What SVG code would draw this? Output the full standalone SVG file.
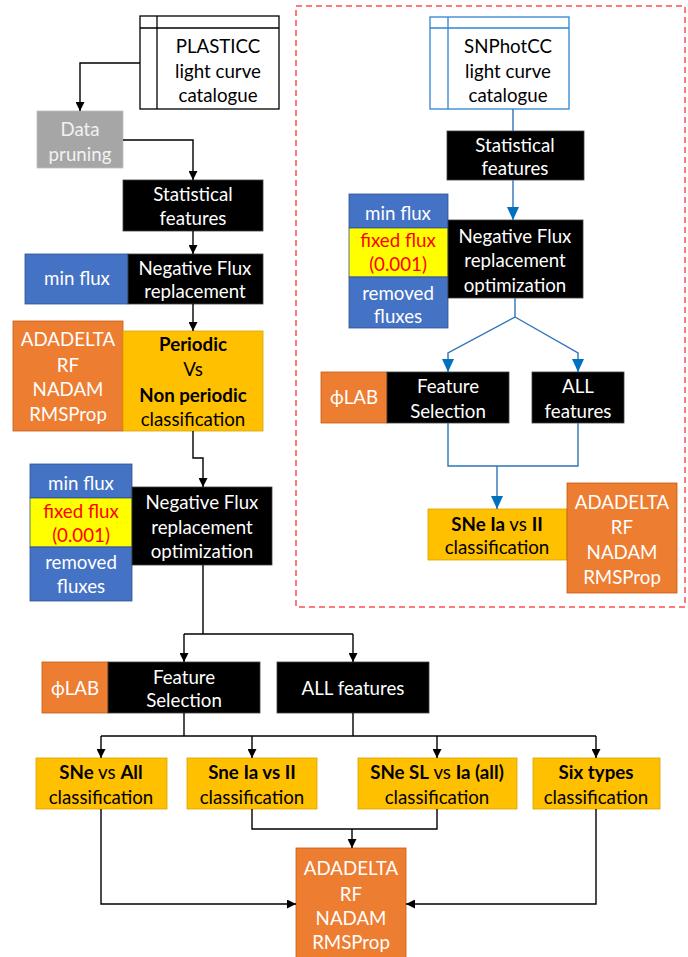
<svg xmlns="http://www.w3.org/2000/svg" width="688" height="957" viewBox="0 0 688 957">
<defs>
<marker id="ab" markerUnits="userSpaceOnUse" markerWidth="9" markerHeight="9" refX="9" refY="4.5" orient="auto"><path d="M0,0 L9,4.5 L0,9 z" fill="#000"/></marker>
<marker id="au" markerUnits="userSpaceOnUse" markerWidth="13" markerHeight="12" refX="13" refY="6" orient="auto"><path d="M0,0 L13,6 L0,12 z" fill="#0070c0"/></marker>
<style>
text{font-family:Lato,"Noto Sans","Liberation Sans",sans-serif;font-size:18.7px;text-anchor:middle;}
.w{fill:#fff}.k{fill:#000}.g{fill:#f2f2f2}.r{fill:#ff0000}.b{font-weight:bold}
.blk{fill:#000;stroke:#404040;stroke-width:0.8}
.blu{fill:#4472c4;stroke:#2f528f;stroke-width:0.8}
.yel{fill:#ffc000;stroke:#d9a300;stroke-width:0.8}
.ora{fill:#ed7d31;stroke:#c55a11;stroke-width:0.8}
.fix{fill:#ffff00;stroke:#2f528f;stroke-width:0.8}
.gry{fill:#a6a6a6;stroke:#bfbfbf;stroke-width:0.8}
.cat{fill:#fff;stroke:#000;stroke-width:1.3}
.catb{fill:#fff;stroke:#2e86d0;stroke-width:1.3}
.cn{fill:none;stroke:#000;stroke-width:1.4}
.cu{fill:none;stroke:#2e75b6;stroke-width:1.4}
</style>
</defs>
<rect id="panel" x="296" y="6" width="389" height="601" fill="none" stroke="#ff5050" stroke-width="1.5" stroke-dasharray="6,4"/>

<g id="plasticc">
<rect class="cat" x="140" y="16" width="139" height="93"/>
<line x1="140" y1="28" x2="279" y2="28" stroke="#000" stroke-width="1.3"/>
<line x1="157" y1="16" x2="157" y2="109" stroke="#000" stroke-width="1.3"/>
<text class="k" x="218" y="53">PLASTICC</text>
<text class="k" x="218" y="78">light curve</text>
<text class="k" x="218" y="102">catalogue</text>
</g>
<g id="pruning">
<rect class="gry" x="37" y="111" width="86" height="57"/>
<text class="g" x="80" y="136">Data</text>
<text class="g" x="80" y="161">pruning</text>
</g>
<g id="stat1">
<rect class="blk" x="123" y="180" width="140" height="51"/>
<text class="w" x="193" y="201">Statistical</text>
<text class="w" x="193" y="225">features</text>
</g>
<g id="nfr1">
<rect class="blu" x="25" y="254" width="103" height="50"/>
<text class="w" x="77" y="285">min flux</text>
<rect class="blk" x="128" y="254" width="135" height="50"/>
<text class="w" x="195" y="275">Negative Flux</text>
<text class="w" x="195" y="298">replacement</text>
</g>
<g id="periodic">
<rect class="ora" x="13" y="321" width="110" height="110"/>
<text class="w" x="68" y="346">ADADELTA</text>
<text class="w" x="68" y="372">RF</text>
<text class="w" x="68" y="396">NADAM</text>
<text class="w" x="68" y="421">RMSProp</text>
<rect class="yel" x="123" y="331" width="140" height="100"/>
<text class="k b" x="193" y="351">Periodic</text>
<text class="k" x="193" y="376">Vs</text>
<text class="k b" x="193" y="402">Non periodic</text>
<text class="k" x="193" y="426">classification</text>
</g>
<g id="nfro1">
<rect class="blu" x="30" y="464" width="102" height="34"/>
<text class="w" x="81" y="490">min flux</text>
<rect class="fix" x="30" y="498" width="102" height="49"/>
<text class="r" x="81" y="518">fixed flux</text>
<text class="r" x="81" y="542">(0.001)</text>
<rect class="blu" x="30" y="547" width="102" height="54"/>
<text class="w" x="81" y="569">removed</text>
<text class="w" x="81" y="593">fluxes</text>
<rect class="blk" x="132" y="487" width="140" height="78"/>
<text class="w" x="202" y="509">Negative Flux</text>
<text class="w" x="202" y="534">replacement</text>
<text class="w" x="202" y="558">optimization</text>
</g>
<g id="fs1">
<rect class="ora" x="42" y="662" width="66" height="51"/>
<text class="w" x="75" y="695">ϕLAB</text>
<rect class="blk" x="108" y="662" width="152" height="51"/>
<text class="w" x="184" y="684">Feature</text>
<text class="w" x="184" y="707">Selection</text>
</g>
<g id="all1">
<rect class="blk" x="277" y="662" width="152" height="51"/>
<text class="w" x="353" y="695">ALL features</text>
</g>
<g id="c1">
<rect class="yel" x="36" y="758" width="131" height="51"/>
<text class="k" x="101" y="779"><tspan class="b">SNe</tspan> vs <tspan class="b">All</tspan></text>
<text class="k" x="101" y="804">classification</text>
</g>
<g id="c2">
<rect class="yel" x="187" y="758" width="130" height="51"/>
<text class="k b" x="252" y="779">Sne Ia vs II</text>
<text class="k" x="252" y="804">classification</text>
</g>
<g id="c3">
<rect class="yel" x="358" y="758" width="159" height="51"/>
<text class="k" x="437" y="779"><tspan class="b">SNe SL</tspan> vs <tspan class="b">Ia (all)</tspan></text>
<text class="k" x="437" y="804">classification</text>
</g>
<g id="c4">
<rect class="yel" x="533" y="758" width="127" height="51"/>
<text class="k b" x="596" y="779">Six types</text>
<text class="k" x="596" y="804">classification</text>
</g>
<g id="algo1">
<rect class="ora" x="296" y="848" width="110" height="112"/>
<text class="w" x="351" y="875">ADADELTA</text>
<text class="w" x="351" y="901">RF</text>
<text class="w" x="351" y="925">NADAM</text>
<text class="w" x="351" y="949">RMSProp</text>
</g>

<g id="snphotcc">
<rect class="catb" x="430" y="17" width="139" height="92"/>
<line x1="430" y1="28" x2="569" y2="28" stroke="#2e86d0" stroke-width="1.3"/>
<line x1="448" y1="17" x2="448" y2="109" stroke="#2e86d0" stroke-width="1.3"/>
<text class="k" x="508" y="53">SNPhotCC</text>
<text class="k" x="508" y="78">light curve</text>
<text class="k" x="508" y="102">catalogue</text>
</g>
<g id="stat2">
<rect class="blk" x="447" y="131" width="137" height="49"/>
<text class="w" x="515" y="152">Statistical</text>
<text class="w" x="515" y="175">features</text>
</g>
<g id="nfro2">
<rect class="blu" x="349" y="194" width="99" height="34"/>
<text class="w" x="398" y="220">min flux</text>
<rect class="fix" x="349" y="228" width="99" height="49"/>
<text class="r" x="398" y="247">fixed flux</text>
<text class="r" x="398" y="271">(0.001)</text>
<rect class="blu" x="349" y="277" width="99" height="51"/>
<text class="w" x="398" y="300">removed</text>
<text class="w" x="398" y="323">fluxes</text>
<rect class="blk" x="448" y="220" width="135" height="78"/>
<text class="w" x="515" y="243">Negative Flux</text>
<text class="w" x="515" y="267">replacement</text>
<text class="w" x="515" y="292">optimization</text>
</g>
<g id="fs2">
<rect class="ora" x="321" y="372" width="66" height="51"/>
<text class="w" x="354" y="404">ϕLAB</text>
<rect class="blk" x="387" y="372" width="122" height="51"/>
<text class="w" x="448" y="393">Feature</text>
<text class="w" x="448" y="418">Selection</text>
</g>
<g id="all2">
<rect class="blk" x="532" y="372" width="92" height="51"/>
<text class="w" x="578" y="393">ALL</text>
<text class="w" x="578" y="418">features</text>
</g>
<g id="c5">
<rect class="yel" x="428" y="509" width="139" height="51"/>
<text class="k" x="497" y="531"><tspan class="b">SNe Ia</tspan> vs <tspan class="b">II</tspan></text>
<text class="k" x="497" y="554">classification</text>
</g>
<g id="algo2">
<rect class="ora" x="567" y="483" width="110" height="110"/>
<text class="w" x="622" y="509">ADADELTA</text>
<text class="w" x="622" y="534">RF</text>
<text class="w" x="622" y="559">NADAM</text>
<text class="w" x="622" y="584">RMSProp</text>
</g>

<g id="connectors">
<path class="cn" d="M140,63 H80 V111" marker-end="url(#ab)"/>
<path class="cn" d="M123,140 H193 V180" marker-end="url(#ab)"/>
<path class="cn" d="M193,231 V254" marker-end="url(#ab)"/>
<path class="cn" d="M193,304 V331" marker-end="url(#ab)"/>
<path class="cn" d="M193,431 V458 H203 V487" marker-end="url(#ab)"/>
<path class="cn" d="M203,565 V634"/>
<path class="cn" d="M184,634 H353"/>
<path class="cn" d="M184,634 V662" marker-end="url(#ab)"/>
<path class="cn" d="M353,634 V662" marker-end="url(#ab)"/>
<path class="cn" d="M184,713 V736"/>
<path class="cn" d="M353,713 V736"/>
<path class="cn" d="M101,736 H596"/>
<path class="cn" d="M101,736 V758" marker-end="url(#ab)"/>
<path class="cn" d="M252,736 V758" marker-end="url(#ab)"/>
<path class="cn" d="M437,736 V758" marker-end="url(#ab)"/>
<path class="cn" d="M596,736 V758" marker-end="url(#ab)"/>
<path class="cn" d="M101,809 V904 H296" marker-end="url(#ab)"/>
<path class="cn" d="M596,809 V904 H406" marker-end="url(#ab)"/>
<path class="cn" d="M252,809 V829 H437 V809"/>
<path class="cn" d="M352,829 V848" marker-end="url(#ab)"/>
<path class="cu" d="M513,109 V131"/>
<path class="cu" d="M513,180 V220" marker-end="url(#au)"/>
<path class="cu" d="M515,298 V317 L448,353 V372" marker-end="url(#au)"/>
<path class="cu" d="M515,317 L578,353 V372" marker-end="url(#au)"/>
<path class="cu" d="M448,423 V466 H578 V423"/>
<path class="cu" d="M497,466 V509" marker-end="url(#au)"/>
</g>
</svg>
